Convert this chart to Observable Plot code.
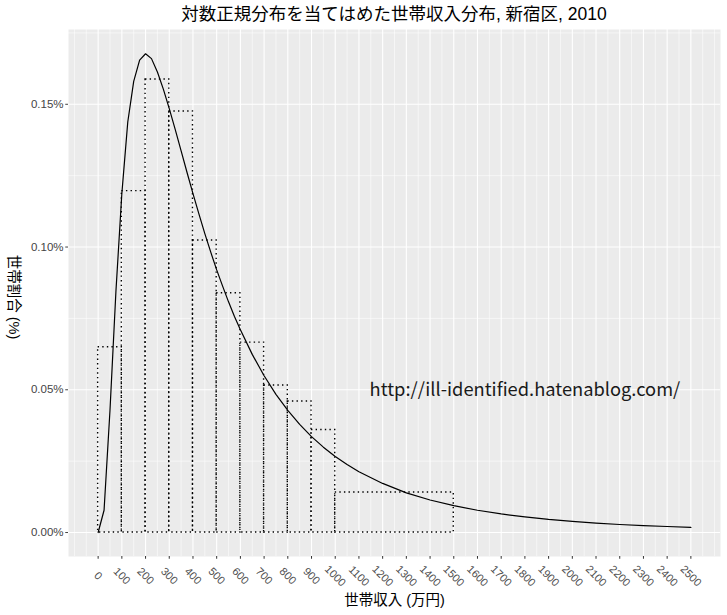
<!DOCTYPE html>
<html><head><meta charset="utf-8">
<script src="https://cdn.jsdelivr.net/npm/d3@7"></script>
<script src="https://cdn.jsdelivr.net/npm/@observablehq/plot@0.6"></script>
<style>
body{margin:0;background:#fff;}
#title{height:29px;line-height:29px;font-size:17.5px;font-family:"Liberation Sans","Noto Sans CJK JP",sans-serif;text-align:center;padding-left:68px;padding-right:7px;color:#000;white-space:nowrap;}
</style></head><body>
<div id="title">対数正規分布を当てはめた世帯収入分布, 新宿区, 2010</div>
<div id="chart"></div>
<script>
// Histogram bins (万円) and density (% per 万円)
const binStart = [0, 100, 200, 300, 400, 500, 600, 700, 800, 900, 1000, 1500];
const binEnd   = [100, 200, 300, 400, 500, 600, 700, 800, 900, 1000, 1500, 4000];
const binDensity = [0.0649, 0.1196, 0.1587, 0.1475, 0.1023, 0.0838, 0.0665, 0.0515, 0.0459, 0.0359, 0.0140, 0];

// Fitted log-normal curve
const curveX = [0,25,50,75,100,125,150,175,200,225,250,275,300,325,350,375,400,425,450,475,500,525,550,575,600,650,700,750,800,850,900,950,1000,1050,1100,1200,1300,1400,1500,1600,1700,1800,1900,2000,2100,2200,2300,2400,2500];
const curveY = [0,0.0078,0.0428,0.0844,0.1187,0.1438,0.1580,0.1655,0.1677,0.1660,0.1613,0.1553,0.1485,0.1412,0.1337,0.1261,0.1187,0.1116,0.1047,0.0982,0.0920,0.0863,0.0808,0.0757,0.0710,0.0624,0.0549,0.0484,0.0428,0.0379,0.0336,0.0299,0.0266,0.0238,0.0213,0.0172,0.0139,0.0114,0.0094,0.0078,0.0065,0.0055,0.0046,0.0039,0.0033,0.0028,0.0024,0.0021,0.0018];

// Axis ticks
const xMajor = d3.range(0, 2501, 100);
const xMinor = [-100, -50].concat(d3.range(50, 2600, 100), [2600]);
const yMajor = [0, 0.05, 0.10, 0.15];
const yMinor = [0.025, 0.075, 0.125, 0.175];

const xTitle = "世帯収入 (万円)";
const yTitle = "世帯割合 (%)";
const watermark = [{x: 1800, y: 0.05, label: "http://ill-identified.hatenablog.com/"}];

const bins = binStart.map((s, i) => ({x1: s, x2: binEnd[i], y: binDensity[i]}));
const curve = curveX.map((x, i) => ({x, y: curveY[i]}));

const font = '"Liberation Sans","Noto Sans CJK JP",sans-serif';

const chart = Plot.plot({
  width: 727,
  height: 586,
  marginTop: 0,
  marginBottom: 59,
  marginLeft: 68,
  marginRight: 7,
  style: {fontFamily: font, background: "white"},
  x: {domain: [-125, 2625]},
  y: {domain: [-0.0084, 0.1762]},
  marks: [
    Plot.frame({fill: "#EBEBEB", stroke: null}),
    Plot.ruleX(xMinor, {stroke: "white", strokeWidth: 0.55}),
    Plot.ruleY(yMinor, {stroke: "white", strokeWidth: 0.55}),
    Plot.ruleX(xMajor, {stroke: "white", strokeWidth: 1.1}),
    Plot.ruleY(yMajor, {stroke: "white", strokeWidth: 1.1}),
    Plot.rect(bins, {x1: "x1", x2: "x2", y1: 0, y2: "y", fill: "none", stroke: "black",
      strokeWidth: 1.4, strokeDasharray: "1.4,3.2", clip: true}),
    Plot.line(curve, {x: "x", y: "y", stroke: "black", strokeWidth: 1.2}),
    Plot.text(watermark, {x: "x", y: "y", text: "label", fontSize: 18.3,
      fontFamily: '"Noto Sans CJK JP","Noto Sans",sans-serif', fill: "#1a1a1a"}),
    Plot.axisY({ticks: yMajor, tickFormat: d => d.toFixed(2) + "%", tickSize: 2.75,
      tickPadding: 2.2, fontSize: 11.5, label: null, color: "#444"}),
    Plot.axisX({ticks: xMajor, tickFormat: () => "", tickSize: 2.75, label: null, color: "#333"}),
    Plot.text(xMajor, {x: d => d, frameAnchor: "bottom", dy: 19.5, rotate: 45,
      text: d => String(d), textAnchor: "middle", lineAnchor: "middle", fontSize: 11, fill: "#4D4D4D"}),
    Plot.text([xTitle], {frameAnchor: "bottom", dy: 43.5, text: d => d, fontSize: 14.5,
      textAnchor: "middle", lineAnchor: "middle", fill: "#000"}),
    Plot.text([yTitle], {frameAnchor: "left", dx: -55, dy: 4, rotate: 90, text: d => d, fontSize: 14.5,
      textAnchor: "middle", lineAnchor: "middle", fill: "#000"})
  ]
});
document.getElementById("chart").appendChild(chart);
</script>
</body></html>
